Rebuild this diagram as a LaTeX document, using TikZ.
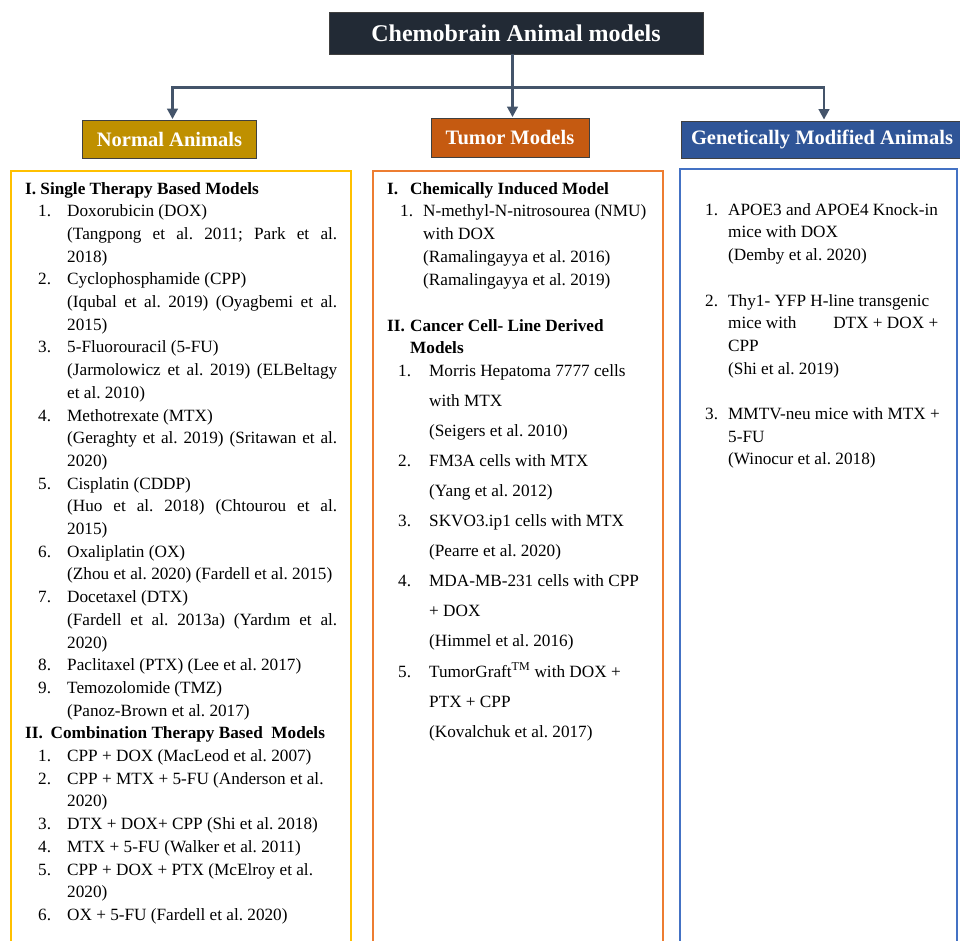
\documentclass[tikz,border=0pt]{standalone}
\usepackage{fontspec}
\setmainfont{Liberation Serif}
\usepackage{xcolor}
\usetikzlibrary{arrows.meta}

\definecolor{titleblue}{HTML}{222A35}
\definecolor{linkgray}{HTML}{44546A}
\definecolor{normalgold}{HTML}{BF9000}
\definecolor{tumororange}{HTML}{C55A11}
\definecolor{geneblue}{HTML}{2F5597}
\definecolor{normalline}{HTML}{FFC000}
\definecolor{tumorline}{HTML}{ED7D31}
\definecolor{geneline}{HTML}{4472C4}

% number of a list entry, set left of the text column
\newcommand{\modelnum}[2][29pt]{\noindent\llap{\makebox[#1][l]{#2}}}

\begin{document}
\begin{tikzpicture}[x=1pt, y=-1pt,
    header/.style={draw=black!75, line width=0.8pt, text=white, font=\bfseries\fontsize{20.5}{24}\selectfont, inner sep=0pt},
    panel/.style={line width=1.3pt},
    listtext/.style={inner sep=0pt, anchor=base west, align=left},
    link/.style={draw=linkgray, line width=2.6pt},
    arrow/.style={link, -{Triangle[length=10.5pt, width=10.5pt]}, shorten >=1pt}]
    \useasboundingbox (0,0) rectangle (960,940);
    \clip (0,0) rectangle (960,940);

    \node[header, fill=titleblue, minimum width=374pt, minimum height=42pt, font=\bfseries\fontsize{24}{28}\selectfont] (title) at (516,33) {Chemobrain Animal models};
    \node[header, fill=normalgold, minimum width=174pt, minimum height=38pt] (normal) at (169.5,139.5) {Normal Animals};
    \node[header, fill=tumororange, minimum width=158pt, minimum height=39pt] (tumor) at (510,138) {Tumor Models};
    \node[header, fill=geneblue, minimum width=282pt, minimum height=37pt] (genetic) at (822,139.5) {Genetically Modified Animals};

    \coordinate (hub) at (512.5,87.5);
    \draw[link] (hub |- title.south) -- (hub);
    \draw[arrow] (hub) -| ([xshift=3pt]normal.north);
    \draw[arrow] (hub) -- (hub |- tumor.north);
    \draw[arrow] (hub) -| ([xshift=2pt]genetic.north);

    \draw[panel, draw=normalline] (11,171) rectangle (351,960);
    \draw[panel, draw=tumorline] (373,171) rectangle (663,960);
    \draw[panel, draw=geneline] (680,169) rectangle (957,960);

    % Normal Animals
    \node[listtext] (normallist) at (25,194) {\begin{minipage}[t]{312pt}
        \fontsize{17.2}{22.7}\selectfont\frenchspacing\parindent=0pt
        \textbf{I. Single Therapy Based Models}\par
        \leftskip=42pt
        \modelnum{1.}Doxorubicin (DOX)\newline
        (Tangpong et al. 2011; Park et al.\linebreak 2018)\par
        \modelnum{2.}Cyclophosphamide (CPP)\newline
        (Iqubal et al. 2019) (Oyagbemi et al.\linebreak 2015)\par
        \modelnum{3.}5-Fluorouracil (5-FU)\newline
        (Jarmolowicz et al. 2019) (ELBeltagy\linebreak et al. 2010)\par
        \modelnum{4.}Methotrexate (MTX)\newline
        (Geraghty et al. 2019) (Sritawan et al.\linebreak 2020)\par
        \modelnum{5.}Cisplatin (CDDP)\newline
        (Huo et al. 2018) (Chtourou et al.\linebreak 2015)\par
        \modelnum{6.}Oxaliplatin (OX)\newline
        (Zhou et al. 2020) (Fardell et al. 2015)\par
        \modelnum{7.}Docetaxel (DTX)\newline
        (Fardell et al. 2013a) (Yardım et al.\linebreak 2020)\par
        \modelnum{8.}Paclitaxel (PTX) (Lee et al. 2017)\par
        \modelnum{9.}Temozolomide (TMZ)\newline
        (Panoz-Brown et al. 2017)\par
        {\leftskip=0pt \makebox[25.5pt][l]{\textbf{II.}}\textbf{Combination Therapy Based\ \ Models}\par}
        \modelnum{1.}CPP + DOX (MacLeod et al. 2007)\par
        \modelnum{2.}CPP + MTX + 5-FU (Anderson et al.\newline 2020)\par
        \modelnum{3.}DTX + DOX+ CPP (Shi et al. 2018)\par
        \modelnum{4.}MTX + 5-FU (Walker et al. 2011)\par
        \modelnum{5.}CPP + DOX + PTX (McElroy et al.\newline 2020)\par
        \modelnum{6.}OX + 5-FU (Fardell et al. 2020)\par
    \end{minipage}};

    % Tumor Models
    \node[listtext] (chemlist) at (387,194) {\begin{minipage}[t]{270pt}
        \fontsize{17.2}{22.8}\selectfont\frenchspacing\parindent=0pt
        \makebox[23pt][l]{\textbf{I.}}\textbf{Chemically Induced Model}\par
        \leftskip=36pt
        \modelnum[23pt]{1.}N-methyl-N-nitrosourea (NMU)\newline
        with DOX\newline
        (Ramalingayya et al. 2016)\newline
        (Ramalingayya et al. 2019)\par
    \end{minipage}};
    \node[listtext] (cellhead) at (387,331) {\begin{minipage}[t]{270pt}
        \fontsize{17.2}{22.5}\selectfont\parindent=0pt
        \makebox[23pt][l]{\textbf{II.}}\textbf{Cancer Cell- Line Derived}\newline
        \hspace*{23pt}\textbf{Models}\par
    \end{minipage}};
    \node[listtext] (celllist) at (387,376) {\begin{minipage}[t]{270pt}
        \fontsize{17.2}{30.1}\selectfont\frenchspacing\parindent=0pt
        \leftskip=42pt
        \modelnum[31pt]{1.}Morris Hepatoma 7777 cells\newline
        with MTX\newline
        (Seigers et al. 2010)\par
        \modelnum[31pt]{2.}FM3A cells with MTX\newline
        (Yang et al. 2012)\par
        \modelnum[31pt]{3.}SKVO3.ip1 cells with MTX\newline
        (Pearre et al. 2020)\par
        \modelnum[31pt]{4.}MDA-MB-231 cells with CPP\newline
        + DOX\newline
        (Himmel et al. 2016)\par
        \modelnum[31pt]{5.}TumorGraft\textsuperscript{TM} with DOX +\newline
        PTX + CPP\newline
        (Kovalchuk et al. 2017)\par
    \end{minipage}};

    % Genetically Modified Animals
    \node[listtext] (genelist) at (705,215) {\begin{minipage}[t]{250pt}
        \fontsize{17.2}{22.7}\selectfont\frenchspacing\parindent=0pt
        \leftskip=23pt
        \modelnum[23pt]{1.}APOE3 and APOE4 Knock-in\newline
        mice with DOX\newline
        (Demby et al. 2020)\par
        \vspace{23pt}
        \modelnum[23pt]{2.}Thy1- YFP H-line transgenic\newline
        \makebox[210pt][l]{mice with\hfill DTX + DOX +}\newline
        CPP\newline
        (Shi et al. 2019)\par
        \vspace{22.5pt}
        \modelnum[23pt]{3.}MMTV-neu mice with MTX +\newline
        5-FU\newline
        (Winocur et al. 2018)\par
    \end{minipage}};
\end{tikzpicture}
\end{document}
